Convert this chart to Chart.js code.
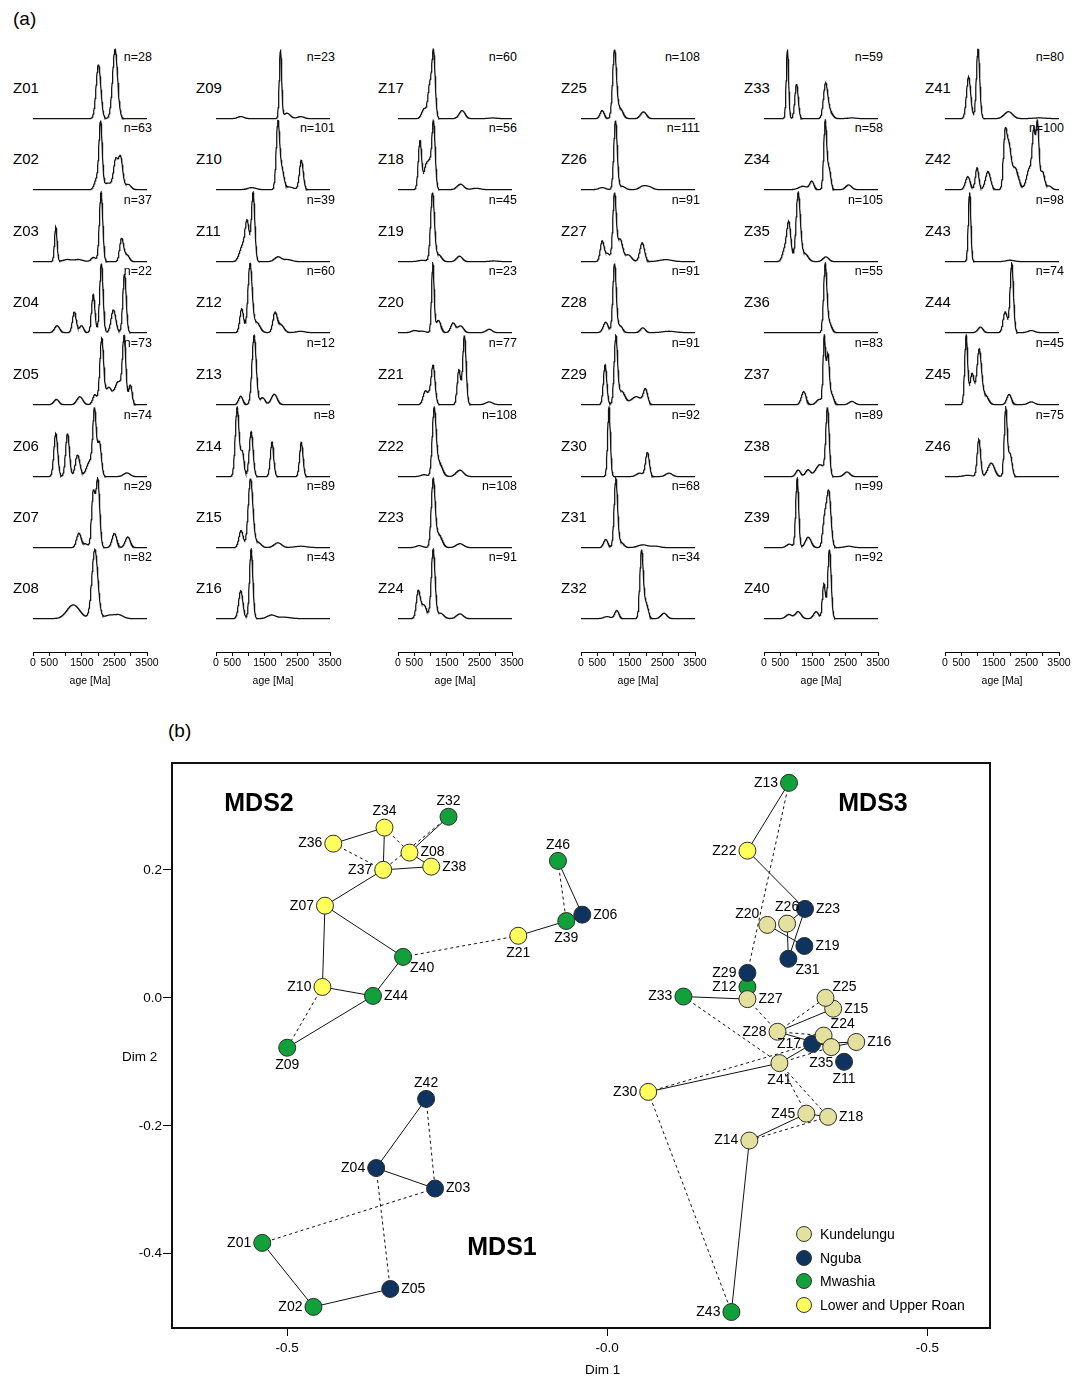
<!DOCTYPE html>
<html lang="en">
<head>
<meta charset="UTF-8">
<title>Detrital zircon age spectra and MDS</title>
<script src="https://cdn.jsdelivr.net/npm/chart.js"></script>
<style>
  body { margin: 0; background: #fff; font-family: "Liberation Sans", Arial, sans-serif; color: #000; }
  #page { position: relative; width: 1086px; height: 1381px; overflow: hidden; }
  .abs { position: absolute; white-space: nowrap; line-height: 1; }
  .name { font-size: 15px; transform: translateY(-50%); }
  .nval { font-size: 12.5px; transform: translate(-100%, -50%); }
  .big { font-size: 25px; font-weight: bold; transform: translate(-50%, -50%); }
  .lg { font-size: 14px; transform: translateY(-50%); }
  .dot { position: absolute; width: 14px; height: 14px; border-radius: 50%; border: 1px solid #333; transform: translate(-50%, -50%); }
  canvas { position: absolute; }
</style>
</head>
<body>
<div id="page">
  <div class="abs" style="left:13px;top:9px;font-size:19px;">(a)</div>
  <div class="abs" style="left:168px;top:721px;font-size:19px;">(b)</div>
</div>
<script>
// n per sample, Z01..Z46
const sampleN = [28, 63, 37, 22, 73, 74, 29, 82,
                 23, 101, 39, 60, 12, 8, 89, 43,
                 60, 56, 45, 23, 77, 108, 108, 91,
                 108, 111, 91, 91, 91, 92, 68, 34,
                 59, 58, 105, 55, 83, 89, 99, 92,
                 80, 100, 98, 74, 45, 75];

// age peaks: [age Ma, relative height, spread Ma]
const kdeCol1 = [
  [[2010, 0.78, 55], [2520, 1, 60]],
  [[1950, 0.15, 50], [2075, 1, 38], [2300, 0.1, 120], [2540, 0.42, 50], [2690, 0.48, 50], [2920, 0.08, 70]],
  [[700, 0.5, 30], [1050, 0.03, 100], [1400, 0.03, 100], [1860, 0.06, 60], [2090, 1, 40], [2720, 0.33, 45], [2880, 0.1, 60]],
  [[740, 0.1, 60], [1270, 0.3, 45], [1490, 0.1, 50], [1850, 0.55, 40], [2100, 1, 40], [2470, 0.33, 55], [2810, 0.85, 40]],
  [[720, 0.08, 60], [1440, 0.12, 70], [1900, 0.15, 50], [2110, 1, 45], [2320, 0.25, 70], [2620, 0.35, 90], [2800, 0.95, 40], [2990, 0.3, 40]],
  [[700, 0.7, 45], [1060, 0.7, 45], [1370, 0.35, 55], [1750, 0.25, 80], [1890, 1, 40], [2040, 0.55, 45], [2880, 0.06, 80]],
  [[1410, 0.2, 55], [1620, 0.05, 60], [1850, 0.75, 40], [1990, 0.95, 45], [2500, 0.2, 55], [2910, 0.15, 60]],
  [[1240, 0.2, 150], [1900, 1, 70], [2350, 0.05, 120], [2650, 0.05, 100]]
];
const kdeCol2 = [
  [[760, 0.03, 80], [1980, 1, 28], [2180, 0.08, 80], [2600, 0.03, 80]],
  [[1100, 0.03, 100], [1900, 1, 40], [2020, 0.3, 50], [2250, 0.04, 100], [2620, 0.45, 45]],
  [[810, 0.22, 70], [960, 0.55, 50], [1140, 1, 40], [1900, 0.07, 80], [2200, 0.03, 100]],
  [[790, 0.35, 45], [1045, 1, 50], [1250, 0.15, 80], [1810, 0.27, 50], [1980, 0.12, 80], [2600, 0.02, 100]],
  [[760, 0.12, 50], [1170, 1, 50], [1430, 0.1, 60], [1790, 0.15, 70]],
  [[650, 1, 45], [810, 0.35, 40], [1080, 0.65, 45], [1720, 0.5, 40], [2620, 0.5, 40]],
  [[770, 0.25, 50], [1060, 1, 55], [1280, 0.08, 80], [1900, 0.07, 90], [2600, 0.02, 150]],
  [[760, 0.4, 50], [1080, 1, 40], [1700, 0.05, 100], [2100, 0.02, 150]]
];
const kdeCol3 = [
  [[810, 0.15, 60], [970, 0.45, 40], [1090, 1, 40], [1970, 0.12, 70], [2900, 0.01, 100]],
  [[675, 0.72, 40], [860, 0.35, 50], [970, 0.3, 40], [1090, 1, 40], [1920, 0.08, 80], [2400, 0.02, 100]],
  [[750, 0.02, 100], [1060, 1, 45], [1250, 0.1, 70], [1890, 0.08, 70], [2950, 0.01, 100]],
  [[500, 0.03, 70], [750, 0.02, 80], [1070, 1, 30], [1240, 0.18, 60], [1690, 0.14, 55], [1920, 0.1, 70], [2800, 0.05, 70]],
  [[830, 0.18, 50], [960, 0.12, 50], [1080, 0.55, 45], [1870, 0.5, 40], [2040, 1, 40], [2800, 0.04, 80]],
  [[800, 0.03, 80], [1110, 1, 45], [1260, 0.22, 80], [1900, 0.1, 90]],
  [[650, 0.03, 80], [1080, 1, 45], [1250, 0.2, 80], [1900, 0.06, 90]],
  [[620, 0.38, 45], [790, 0.2, 70], [1080, 1, 45], [1300, 0.08, 80], [1900, 0.07, 80]]
];
const kdeCol4 = [
  [[650, 0.12, 50], [1030, 1, 45], [1200, 0.15, 70], [1920, 0.1, 70]],
  [[650, 0.03, 80], [1060, 1, 40], [1250, 0.05, 80], [1900, 0.05, 80], [2100, 0.04, 80]],
  [[650, 0.3, 45], [820, 0.12, 60], [1030, 1, 40], [1200, 0.33, 60], [1450, 0.1, 80], [1880, 0.28, 55], [2600, 0.03, 150]],
  [[760, 0.15, 60], [1030, 1, 40], [1200, 0.1, 60], [1900, 0.07, 60], [2700, 0.02, 150]],
  [[740, 0.6, 40], [1070, 1, 40], [1250, 0.2, 80], [1700, 0.12, 120], [1980, 0.22, 50]],
  [[860, 1, 33], [1800, 0.05, 80], [2040, 0.35, 45], [2700, 0.05, 80]],
  [[760, 0.12, 50], [1070, 1, 40], [1220, 0.08, 70], [1900, 0.04, 120], [2300, 0.02, 100]],
  [[800, 0.03, 80], [1100, 0.12, 50], [1860, 1, 40], [2000, 0.22, 50], [2550, 0.08, 70]]
];
const kdeCol5 = [
  [[720, 1, 28], [1000, 0.5, 40], [1890, 0.48, 50], [2020, 0.1, 70], [2700, 0.01, 100]],
  [[1200, 0.05, 100], [1470, 0.12, 50], [1880, 1, 35], [2000, 0.3, 40], [2600, 0.07, 70]],
  [[620, 0.15, 50], [760, 0.58, 50], [1050, 1, 50], [1250, 0.12, 80], [1900, 0.07, 70]],
  [[1880, 1, 38], [2000, 0.15, 60]],
  [[1220, 0.2, 55], [1700, 0.08, 70], [1850, 1, 28], [1960, 0.75, 35], [2080, 0.15, 50], [2700, 0.05, 70]],
  [[1050, 0.1, 55], [1350, 0.1, 60], [1720, 0.18, 100], [1950, 1, 40], [2550, 0.07, 70]],
  [[780, 0.05, 70], [1020, 1, 35], [1360, 0.15, 70], [1860, 0.4, 45], [1990, 0.8, 50], [2600, 0.02, 100]],
  [[760, 0.06, 70], [1050, 0.1, 70], [1600, 0.1, 60], [1840, 0.5, 35], [2010, 1, 40]]
];
const kdeCol6 = [
  [[725, 0.6, 50], [1015, 1, 40], [1950, 0.1, 100], [2900, 0.01, 150]],
  [[700, 0.18, 55], [985, 0.3, 40], [1320, 0.25, 60], [1845, 0.72, 40], [1960, 0.55, 50], [2150, 0.3, 80], [2600, 0.3, 70], [2725, 0.7, 35], [2840, 0.9, 35], [2990, 0.25, 50], [3200, 0.05, 60]],
  [[755, 1, 30], [2000, 0.02, 100]],
  [[1090, 0.08, 60], [1850, 0.3, 50], [2050, 1, 40], [2650, 0.03, 80]],
  [[650, 1, 35], [830, 0.45, 50], [1050, 0.8, 55], [1250, 0.13, 70], [1970, 0.15, 55], [2650, 0.04, 80]],
  [[700, 0.02, 100], [1040, 0.55, 40], [1420, 0.2, 80], [1865, 1, 35], [2000, 0.33, 45]]
];
const ageTicks = [0, 500, 1500, 2500, 3500];

// MDS map
const mdsNames = ['Z01', 'Z02', 'Z03', 'Z04', 'Z05', 'Z06', 'Z07', 'Z08', 'Z09', 'Z10',
                  'Z11', 'Z12', 'Z13', 'Z14', 'Z15', 'Z16', 'Z17', 'Z18', 'Z19', 'Z20',
                  'Z21', 'Z22', 'Z23', 'Z24', 'Z25', 'Z26', 'Z27', 'Z28', 'Z29', 'Z30',
                  'Z31', 'Z32', 'Z33', 'Z34', 'Z35', 'Z36', 'Z37', 'Z38', 'Z39', 'Z40',
                  'Z41', 'Z42', 'Z43', 'Z44', 'Z45', 'Z46'];
const mdsDim1 = [-0.539, -0.459, -0.269, -0.361, -0.339, -0.039, -0.441, -0.309, -0.500, -0.445,
                 0.370, 0.219, 0.284, 0.222, 0.353, 0.389, 0.320, 0.345, 0.308, 0.250,
                 -0.139, 0.219, 0.309, 0.338, 0.341, 0.281, 0.219, 0.266, 0.219, 0.064,
                 0.283, -0.248, 0.119, -0.348, 0.350, -0.428, -0.350, -0.275, -0.064, -0.319,
                 0.269, -0.283, 0.194, -0.366, 0.311, -0.077];
const mdsDim2 = [-0.383, -0.483, -0.298, -0.266, -0.455, 0.130, 0.144, 0.227, -0.078, 0.017,
                 -0.100, 0.017, 0.336, -0.223, -0.017, -0.069, -0.072, -0.186, 0.081, 0.114,
                 0.097, 0.230, 0.139, -0.059, 0.000, 0.116, -0.002, -0.053, 0.039, -0.147,
                 0.061, 0.283, 0.002, 0.266, -0.077, 0.241, 0.200, 0.205, 0.120, 0.064,
                 -0.102, -0.158, -0.491, 0.003, -0.181, 0.214];
const mdsGroup = ['M', 'M', 'N', 'N', 'N', 'N', 'R', 'R', 'M', 'R',
                  'N', 'M', 'M', 'K', 'K', 'K', 'N', 'K', 'N', 'K',
                  'R', 'R', 'N', 'K', 'K', 'K', 'K', 'K', 'N', 'R',
                  'N', 'M', 'M', 'R', 'K', 'R', 'R', 'R', 'M', 'M',
                  'K', 'N', 'M', 'M', 'K', 'M'];
const groupCodes = ['K', 'N', 'M', 'R'];
const groupLabels = ['Kundelungu', 'Nguba', 'Mwashia', 'Lower and Upper Roan'];
const solidLinks = [['Z36', 'Z34'], ['Z34', 'Z37'], ['Z32', 'Z08'], ['Z08', 'Z38'], ['Z37', 'Z38'], ['Z37', 'Z07'],
  ['Z07', 'Z10'], ['Z07', 'Z40'], ['Z40', 'Z44'], ['Z10', 'Z44'], ['Z09', 'Z44'], ['Z21', 'Z39'], ['Z46', 'Z06'], ['Z39', 'Z06'],
  ['Z42', 'Z04'], ['Z04', 'Z03'], ['Z01', 'Z02'], ['Z02', 'Z05'],
  ['Z13', 'Z22'], ['Z22', 'Z23'], ['Z23', 'Z26'], ['Z23', 'Z31'], ['Z20', 'Z19'], ['Z26', 'Z31'], ['Z29', 'Z12'],
  ['Z33', 'Z27'], ['Z28', 'Z15'], ['Z28', 'Z35'], ['Z17', 'Z16'], ['Z35', 'Z16'], ['Z41', 'Z17'], ['Z41', 'Z30'],
  ['Z45', 'Z18'], ['Z45', 'Z14'], ['Z14', 'Z43']];
const dashedLinks = [['Z36', 'Z37'], ['Z34', 'Z08'], ['Z32', 'Z37'], ['Z40', 'Z21'], ['Z10', 'Z09'], ['Z46', 'Z39'],
  ['Z42', 'Z03'], ['Z04', 'Z05'], ['Z03', 'Z01'],
  ['Z13', 'Z29'], ['Z33', 'Z41'], ['Z27', 'Z28'], ['Z28', 'Z25'], ['Z28', 'Z24'], ['Z41', 'Z35'], ['Z30', 'Z17'],
  ['Z30', 'Z43'], ['Z41', 'Z45'], ['Z41', 'Z18'], ['Z18', 'Z14']];
const dimTicks = [-0.5, 0, 0.5];

// ---------- layout / styling ----------
const page = document.getElementById('page');
const colLeft = [33, 216, 398, 581, 764, 945];
const rowBase = [119, 190, 262, 333, 405, 477, 548, 619];
const plotW = 114;
const bandwidth = 1.3; // smoothing applied to the peak spreads
const groupColors = { K: '#e4e19e', N: '#0e335f', M: '#12a03b', R: '#ffff5c' };
const labelSide = { Z32: 'T', Z34: 'T', Z36: 'L', Z08: 'R', Z37: 'L', Z38: 'R', Z07: 'L', Z40: 'BR', Z10: 'L', Z44: 'R',
  Z09: 'B', Z46: 'T', Z06: 'R', Z39: 'B', Z21: 'B', Z42: 'T', Z04: 'L', Z03: 'R', Z01: 'L', Z02: 'L', Z05: 'R',
  Z13: 'L', Z22: 'L', Z23: 'R', Z20: 'TL', Z26: 'T', Z19: 'R', Z31: 'BR', Z29: 'L', Z12: 'L', Z27: 'R', Z33: 'L',
  Z25: 'TR', Z15: 'R', Z28: 'L', Z24: 'TR', Z16: 'R', Z17: 'L', Z35: 'BL', Z11: 'B', Z41: 'B', Z30: 'L',
  Z45: 'L', Z18: 'R', Z14: 'L', Z43: 'L' };

Chart.defaults.font.family = '"Liberation Sans", Arial, sans-serif';
Chart.defaults.color = '#000';
Chart.defaults.animation = false;

function addText(cls, text, x, y, extra) {
  const d = document.createElement('div');
  d.className = 'abs ' + cls;
  d.textContent = text;
  d.style.left = x + 'px';
  d.style.top = y + 'px';
  if (extra) Object.assign(d.style, extra);
  page.appendChild(d);
  return d;
}
function addCanvas(x, y, w, h) {
  const c = document.createElement('canvas');
  c.width = w; c.height = h;
  c.style.left = x + 'px'; c.style.top = y + 'px';
  c.style.width = w + 'px'; c.style.height = h + 'px';
  page.appendChild(c);
  return c;
}

// density curve from the peak list, scaled to its own maximum
function kdeCurve(peaks) {
  const pts = [];
  for (let t = 0; t <= 3500; t += 10) {
    let d = 0;
    peaks.forEach(([age, h, s]) => { d += h * Math.exp(-0.5 * ((t - age) / (s * bandwidth)) ** 2); });
    pts.push({ x: t, y: d });
  }
  const top = Math.max(...pts.map(p => p.y));
  return pts.map(p => ({ x: p.x, y: p.y / top }));
}

// ---------- (a) age spectra ----------
const columns = [kdeCol1, kdeCol2, kdeCol3, kdeCol4, kdeCol5, kdeCol6];
let idx = 0;
columns.forEach((col, c) => {
  const x0 = colLeft[c];
  col.forEach((peaks, r) => {
    const base = rowBase[r];
    const name = 'Z' + String(idx + 1).padStart(2, '0');
    addText('name', name, x0 - 20, base - 32);
    addText('nval', 'n=' + sampleN[idx], x0 + 119, base - 62);
    const cv = addCanvas(x0, base - 71, plotW, 72);
    new Chart(cv, {
      type: 'line',
      data: { datasets: [{ data: kdeCurve(peaks), borderColor: '#111', borderWidth: 1.25, pointRadius: 0, tension: 0 }] },
      options: {
        responsive: false, events: [],
        layout: { padding: 0 },
        plugins: { legend: { display: false }, tooltip: { enabled: false } },
        scales: {
          x: { type: 'linear', display: false, min: 0, max: 3500 },
          y: { display: false, min: -0.02, max: 1.02 }
        }
      }
    });
    idx++;
  });

  // age axis under each column
  const ac = addCanvas(x0 - 15, 645, plotW + 30, 44);
  new Chart(ac, {
    type: 'line',
    data: { datasets: [{ data: [] }] },
    options: {
      responsive: false, events: [],
      layout: { padding: { left: 15, right: 15, top: 2, bottom: 0 } },
      plugins: { legend: { display: false }, tooltip: { enabled: false } },
      scales: {
        x: {
          type: 'linear', min: 0, max: 3500,
          afterFit: s => { s.height = 37; },
          border: { display: true, color: '#000', width: 1 },
          grid: { drawOnChartArea: false, drawTicks: true, tickLength: 4, color: '#000' },
          ticks: {
            stepSize: 500, autoSkip: false, maxRotation: 0, padding: 1,
            font: { size: 10.5 },
            callback: v => ageTicks.includes(v) ? String(v) : ''
          },
          title: { display: true, text: 'age [Ma]', font: { size: 10.5 }, padding: { top: 0, bottom: 2 } }
        },
        y: { display: false, min: 0, max: 1 }
      }
    }
  });
});

// ---------- (b) MDS map ----------
const pos = {};
mdsNames.forEach((n, i) => { pos[n] = { x: mdsDim1[i], y: mdsDim2[i] }; });

const linkSets = [];
solidLinks.forEach(([a, b]) => linkSets.push({ data: [pos[a], pos[b]], dash: [] }));
dashedLinks.forEach(([a, b]) => linkSets.push({ data: [pos[a], pos[b]], dash: [3, 3] }));

const pointSet = {
  type: 'scatter',
  data: mdsNames.map(n => pos[n]),
  pointRadius: 8.5,
  pointBackgroundColor: mdsGroup.map(g => groupColors[g]),
  pointBorderColor: '#2b2b2b',
  pointBorderWidth: 1,
  order: 0
};

const labelOffsets = {
  R: [11, 0, 'left'], L: [-11, 0, 'right'], T: [0, -16, 'center'], B: [0, 17, 'center'],
  TR: [7, -11, 'left'], TL: [-8, -11, 'right'], BR: [7, 11, 'left'], BL: [2, 16, 'right']
};

const mdsDecor = {
  id: 'mdsDecor',
  afterDatasetsDraw(chart) {
    const { ctx, chartArea, scales } = chart;
    ctx.save();
    ctx.font = '14px "Liberation Sans", Arial, sans-serif';
    ctx.fillStyle = '#000';
    ctx.textBaseline = 'middle';
    mdsNames.forEach((n, i) => {
      const [dx, dy, al] = labelOffsets[labelSide[n]];
      ctx.textAlign = al;
      ctx.fillText(n, scales.x.getPixelForValue(mdsDim1[i]) + dx, scales.y.getPixelForValue(mdsDim2[i]) + dy);
    });
    ctx.lineWidth = 2;
    ctx.strokeStyle = '#111';
    ctx.strokeRect(chartArea.left, chartArea.top, chartArea.right - chartArea.left, chartArea.bottom - chartArea.top);
    ctx.restore();
  }
};

const mc = addCanvas(100, 753, 900, 615);
new Chart(mc, {
  type: 'scatter',
  data: {
    datasets: [pointSet].concat(linkSets.map(l => ({
      type: 'line', data: l.data, borderColor: '#111', borderWidth: 1, borderDash: l.dash,
      pointRadius: 0, showLine: true, fill: false, order: 1
    })))
  },
  options: {
    responsive: false, events: [],
    layout: { padding: { top: 10, right: 10, left: 0, bottom: 0 } },
    plugins: { legend: { display: false }, tooltip: { enabled: false } },
    scales: {
      x: {
        type: 'linear', min: -0.68, max: 0.598,
        afterFit: s => { s.height = 40; },
        border: { display: false },
        grid: { drawOnChartArea: false, drawTicks: true, tickLength: 8, color: '#000' },
        ticks: {
          stepSize: 0.5, includeBounds: false, padding: 4, font: { size: 13.5 },
          callback: v => dimTicks.some(t => Math.abs(t - v) < 1e-6) ? '-' + Math.abs(v).toFixed(1) : ''
        }
      },
      y: {
        type: 'linear', min: -0.516, max: 0.367,
        afterFit: s => { s.width = 72; },
        border: { display: false },
        grid: { drawOnChartArea: false, drawTicks: true, tickLength: 9, color: '#000' },
        ticks: {
          stepSize: 0.2, includeBounds: false, padding: 1, font: { size: 13.5 },
          callback: v => v.toFixed(1)
        }
      }
    }
  },
  plugins: [mdsDecor]
});

addText('', 'Dim 2', 122, 1050, { fontSize: '13.5px' });
addText('', 'Dim 1', 585, 1363, { fontSize: '13.5px' });
addText('big', 'MDS2', 259, 802);
addText('big', 'MDS3', 873, 802);
addText('big', 'MDS1', 502, 1246);

// legend
const legendY = [1234, 1258, 1281, 1305];
groupCodes.forEach((g, i) => {
  const d = document.createElement('div');
  d.className = 'dot';
  d.style.left = '804px';
  d.style.top = legendY[i] + 'px';
  d.style.background = groupColors[g];
  page.appendChild(d);
  addText('lg', groupLabels[i], 820, legendY[i]);
});
</script>
</body>
</html>
